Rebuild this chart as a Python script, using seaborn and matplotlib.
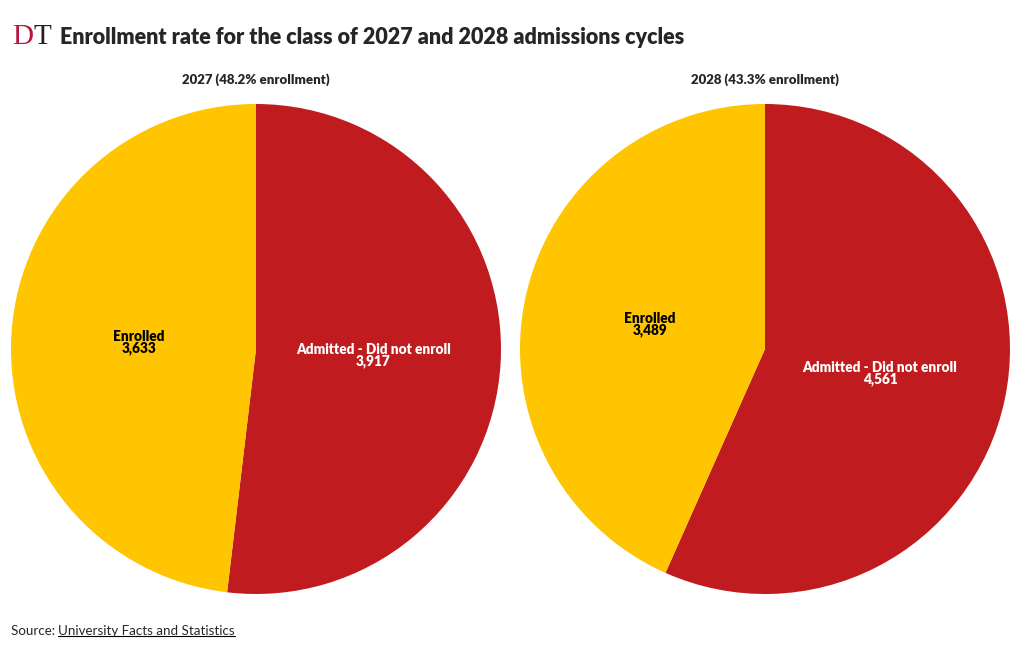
import matplotlib
matplotlib.use("Agg")
import matplotlib.pyplot as plt
from matplotlib.lines import Line2D
import seaborn as sns

# data
years = ["2027", "2028"]
categories = ["Admitted - Did not enroll", "Enrolled"]
did_not_enroll = [3917, 4561]
enrolled = [3633, 3489]
enroll_rates = ["48.2%", "43.3%"]

colors = ["#C01C1F", "#FFC500"]
text_colors = ["white", "black"]

sns.set_theme(style="white")
plt.rcParams["font.family"] = ["Lato", "DejaVu Sans"]

fig = plt.figure(figsize=(10.2, 6.5), dpi=100)
fig.patch.set_facecolor("white")

axes_left = [11 / 1020, 520 / 1020]
for i, year in enumerate(years):
    ax = fig.add_axes([axes_left[i], 56 / 650, 490 / 1020, 490 / 650])
    vals = [did_not_enroll[i], enrolled[i]]
    wedges, texts = ax.pie(
        vals, colors=colors, startangle=90, counterclock=False,
        labels=[f"{c}\n{v:,}" for c, v in zip(categories, vals)],
        labeldistance=0.48, wedgeprops=dict(linewidth=0),
        textprops=dict(fontsize=9.8, fontweight="heavy", ha="center", va="center",
                       linespacing=0.85),
    )
    for t, tc in zip(texts, text_colors):
        t.set_color(tc)
        t.set_horizontalalignment("center")
    ax.set_xlim(-1.0, 1.0)
    ax.set_ylim(-1.0, 1.0)
    ax.set_aspect("equal")
    ax.axis("off")
    fig.text((axes_left[i] + 245 / 1020), 1 - 80 / 650,
             f"{year} ({enroll_rates[i]} enrollment)",
             ha="center", va="center", fontsize=9.5, fontweight="heavy")

# logo
fig.text(12 / 1020, 1 - 37 / 650, "D", color="#B5163A", fontsize=21,
         family=["Liberation Serif", "DejaVu Serif"], va="center", ha="left")
fig.text(33 / 1020, 1 - 37 / 650, "T", color="#222222", fontsize=21,
         family=["Liberation Serif", "DejaVu Serif"], va="center", ha="left")

fig.text(60 / 1020, 1 - 38 / 650,
         "Enrollment rate for the class of 2027 and 2028 admissions cycles",
         ha="left", va="center", fontsize=15.5, fontweight="heavy")

src = fig.text(11 / 1020, 1 - 631 / 650, "Source: ", ha="left", va="center", fontsize=9.6)
fig.canvas.draw()
r = fig.canvas.get_renderer()
bb = src.get_window_extent(r)
link = fig.text(bb.x1 / 1020, 1 - 631 / 650, "University Facts and Statistics",
                ha="left", va="center", fontsize=9.6)
fig.canvas.draw()
lb = link.get_window_extent(r)
fig.add_artist(Line2D([lb.x0 / 1020, lb.x1 / 1020], [(lb.y0 + 1) / 650] * 2,
                      color="black", linewidth=0.8))

fig.savefig("out.png", dpi=100)
